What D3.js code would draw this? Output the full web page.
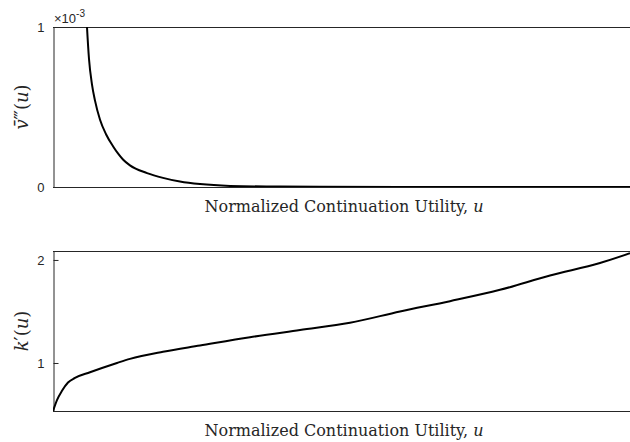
<!DOCTYPE html>
<html lang="en">
<head>
<meta charset="utf-8">
<title>Continuation utility</title>
<script src="https://d3js.org/d3.v7.min.js"></script>
<style>
  body { margin: 0; background: #fff; }
  svg { display: block; }
  .tick text { font-family: "Liberation Sans", Arial, sans-serif; font-size: 13px; fill: #262626; }
  .lab { font-family: "DejaVu Serif", serif; fill: #262626; }
</style>
</head>
<body>
<div id="chart"></div>
<script>
// top panel: v'''(u), in units of 1e-3
var uTop = [0.0555, 0.0589, 0.0624, 0.0676, 0.0728, 0.0815, 0.0919, 0.104, 0.1126, 0.1213, 0.1334, 0.163, 0.1906, 0.220, 0.2548, 0.3068, 0.3934, 0.6014, 1.0];
var vTop = [1.25, 1.0, 0.80, 0.64, 0.54, 0.42, 0.33, 0.255, 0.21, 0.172, 0.135, 0.087, 0.057, 0.034, 0.018, 0.007, 0.0025, 0.0006, 0.0001];

// bottom panel: k'(u)
var uBot = [0, 0.0069, 0.0156, 0.026, 0.0381, 0.0641, 0.1109, 0.1334, 0.1906, 0.2548, 0.3414, 0.4281, 0.5147, 0.6014, 0.688, 0.7747, 0.8614, 0.948, 1.0];
var kBot = [0.534, 0.64, 0.73, 0.81, 0.855, 0.91, 1.0, 1.04, 1.11, 1.17, 1.25, 1.32, 1.39, 1.50, 1.60, 1.71, 1.85, 1.97, 2.065];

var topTicks = [0, 1];
var botTicks = [1, 2];
var xLabel = "Normalized Continuation Utility, ";

var W = 630, H = 442;
var svg = d3.select("#chart").append("svg").attr("width", W).attr("height", H);

var left = 53, right = 630;
var x = d3.scaleLinear().domain([0, 1]).range([left, right]);

function panel(top, bottom, yDomain, ticks, us, vs, id) {
  var y = d3.scaleLinear().domain(yDomain).range([bottom, top]);
  var g = svg.append("g");

  svg.append("clipPath").attr("id", id)
    .append("rect").attr("x", left).attr("y", top).attr("width", right - left).attr("height", bottom - top);

  // box
  g.append("line").attr("x1", left).attr("x2", right).attr("y1", top + 0.5).attr("y2", top + 0.5)
    .attr("stroke", "#262626").attr("stroke-width", 1);

  // y axis, ticks pointing inward
  var ax = g.append("g").attr("transform", "translate(" + (left + 0.5) + ",0)")
    .call(d3.axisLeft(y).tickValues(ticks).tickSizeInner(-5).tickSizeOuter(0).tickPadding(9).tickFormat(d3.format("d")));
  ax.select(".domain").attr("stroke", "#262626");
  ax.selectAll(".tick line").attr("stroke", "#262626");

  // x axis (no ticks)
  g.append("line").attr("x1", left).attr("x2", right).attr("y1", bottom + 0.5).attr("y2", bottom + 0.5)
    .attr("stroke", "#262626").attr("stroke-width", 1);

  var line = d3.line()
    .x(function(d) { return x(d[0]); })
    .y(function(d) { return y(d[1]); })
    .curve(d3.curveMonotoneX);

  g.append("path")
    .datum(d3.zip(us, vs))
    .attr("clip-path", "url(#" + id + ")")
    .attr("fill", "none")
    .attr("stroke", "#000")
    .attr("stroke-width", 2)
    .attr("d", line);

  // x label
  var t = g.append("text").attr("class", "lab")
    .attr("x", 344).attr("y", bottom + 25)
    .attr("text-anchor", "middle").style("font-size", "16px");
  t.append("tspan").text(xLabel);
  t.append("tspan").style("font-style", "italic").text("u");
  return g;
}

var g1 = panel(27, 187, [0, 1], topTicks, uTop, vTop, "clipTop");
var g2 = panel(251, 411, [0.534, 2.087], botTicks, uBot, kBot, "clipBot");

// exponent marker
var ex = svg.append("text").attr("x", 54).attr("y", 23)
  .style("font-family", "Liberation Sans, Arial, sans-serif").style("font-size", "13px").attr("fill", "#262626");
ex.append("tspan").text("\u00d710");
ex.append("tspan").attr("dy", -6).style("font-size", "10px").text("-3");

// y labels
function ylab(cy, parts) {
  var t = svg.append("text").attr("class", "lab")
    .attr("transform", "translate(28," + cy + ") rotate(-90)")
    .attr("text-anchor", "middle").style("font-size", "18px");
  parts.forEach(function(p) {
    t.append("tspan").style("font-style", p[1] ? "italic" : "normal").text(p[0]);
  });
}
ylab(107, [["v\u0304", true], ["\u2034", false], ["(", false], ["u", true], [")", false]]);
ylab(331, [["k", true], ["\u2032", false], ["(", false], ["u", true], [")", false]]);
</script>
</body>
</html>
